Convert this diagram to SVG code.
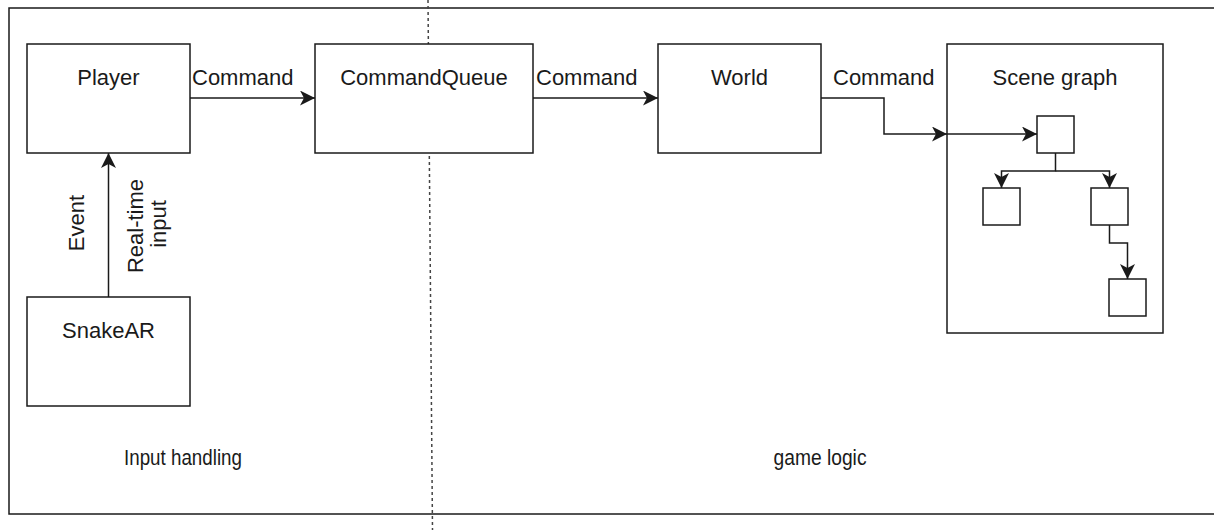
<svg xmlns="http://www.w3.org/2000/svg" width="1214" height="530" viewBox="0 0 1214 530">
<defs>
<style>
.box{fill:#fff;stroke:#1a1a1a;stroke-width:1.5}
.sm{fill:#fff;stroke:#1a1a1a;stroke-width:1.5}
.edge{fill:none;stroke:#1a1a1a;stroke-width:1.5}
.t{font-family:"Liberation Sans",Arial,sans-serif;font-size:22px;fill:#1a1a1a}
.c{text-anchor:middle}
</style>
<marker id="arr" markerUnits="userSpaceOnUse" markerWidth="16" markerHeight="16" refX="15" refY="7.5" orient="auto" viewBox="0 0 16 16">
<path d="M0,0 L15,7.5 L0,15 L4,7.5 z" fill="#1a1a1a"/>
</marker>
</defs>
<rect width="1214" height="530" fill="#fff"/>
<g id="frame">
<rect x="9" y="8" width="1215" height="506" fill="#fff" stroke="#1a1a1a" stroke-width="1.5"/>
</g>
<g id="divider">
<line x1="428" y1="0" x2="432.5" y2="530" stroke="#444" stroke-width="1.5" stroke-dasharray="3 3"/>
</g>
<g id="player"><rect class="box" x="27" y="44" width="163" height="109"/><text class="t c" x="108.5" y="85">Player</text></g>
<g id="commandqueue"><rect class="box" x="315" y="44" width="218" height="109"/><text class="t c" x="424" y="85">CommandQueue</text></g>
<g id="world"><rect class="box" x="658" y="44" width="163" height="109"/><text class="t c" x="739.5" y="85">World</text></g>
<g id="scenegraph"><rect class="box" x="947" y="44" width="216" height="289"/><text class="t c" x="1055" y="85">Scene graph</text></g>
<g id="snakear"><rect class="box" x="27" y="297" width="163" height="109"/><text class="t c" x="108.5" y="338">SnakeAR</text></g>
<g id="root"><rect class="sm" x="1037" y="116" width="37" height="37"/></g>
<g id="child-left"><rect class="sm" x="983" y="188" width="37" height="37"/></g>
<g id="child-right"><rect class="sm" x="1091" y="188" width="37" height="37"/></g>
<g id="grandchild"><rect class="sm" x="1109" y="279" width="37" height="37"/></g>
<g id="connectors">
<path class="edge" d="M190,98 H315" marker-end="url(#arr)"/>
<path class="edge" d="M533,98 H658" marker-end="url(#arr)"/>
<path class="edge" d="M821,98 H884 V134 H947" marker-end="url(#arr)"/>
<path class="edge" d="M947,134 H1037" marker-end="url(#arr)"/>
<path class="edge" d="M108.5,297 V153" marker-end="url(#arr)"/>
<path class="edge" d="M1055.5,153 V171 H1001.5 V188" marker-end="url(#arr)"/>
<path class="edge" d="M1055.5,171 H1109.5 V188" marker-end="url(#arr)"/>
<path class="edge" d="M1109.5,225 V243 H1127.5 V279" marker-end="url(#arr)"/>
<text class="t" x="192" y="85">Command</text>
<text class="t" x="536" y="85">Command</text>
<text class="t" x="833" y="85">Command</text>
<text class="t c" transform="translate(84,223) rotate(-90)">Event</text>
<text class="t c" transform="translate(143,226) rotate(-90)">Real-time</text>
<text class="t c" transform="translate(166,224) rotate(-90)">input</text>
</g>
<g id="labels">
<text class="t c" x="183" y="465" textLength="118" lengthAdjust="spacingAndGlyphs">Input handling</text>
<text class="t c" x="820" y="465" textLength="93" lengthAdjust="spacingAndGlyphs">game logic</text>
</g>
</svg>
